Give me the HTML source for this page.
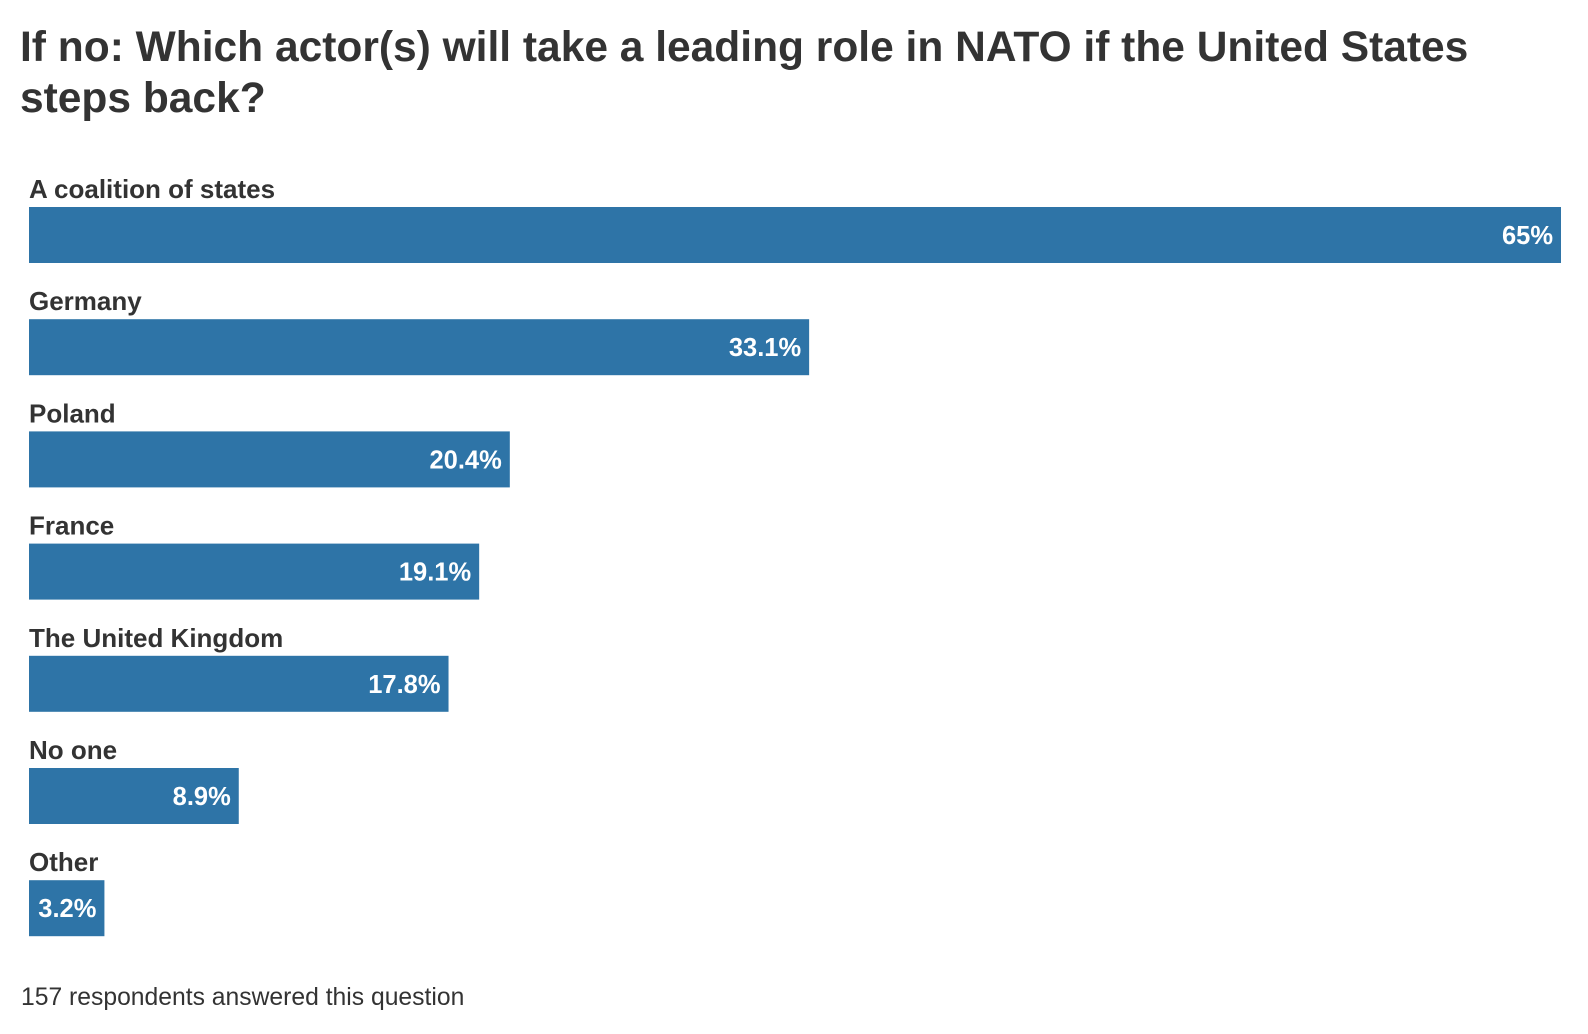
<!DOCTYPE html>
<html><head><meta charset="utf-8"><style>
body{margin:0;background:#fff;width:1588px;height:1034px;overflow:hidden;font-family:"Liberation Sans",sans-serif;color:#333}
h1{position:absolute;left:20px;top:22px;margin:0;font-size:42.5px;line-height:51px;font-weight:bold;color:#333;width:1560px}
#foot{position:absolute;left:21px;top:984px;font-size:24.7px;line-height:28px;color:#333}
</style></head><body>
<h1>If no: Which actor(s) will take a leading role in NATO if the United States<br>steps back?</h1>
<svg id="chart" width="1588" height="1034" style="position:absolute;left:0;top:0"></svg>
<div id="foot">157 respondents answered this question</div>
<script>
const categories=["A coalition of states","Germany","Poland","France","The United Kingdom","No one","Other"];
const values=[65,33.1,20.4,19.1,17.8,8.9,3.2];
const labels=["65%","33.1%","20.4%","19.1%","17.8%","8.9%","3.2%"];
const svg=document.getElementById('chart');
const NS='http://www.w3.org/2000/svg';
const x0=29,maxW=1532,maxV=65;
const xScale=v=>v/maxV*maxW;
const yBar=i=>207+i*112.2;
categories.forEach((c,i)=>{
  const t=document.createElementNS(NS,'text');
  
  
  t.setAttribute('x',x0);t.setAttribute('y',yBar(i)-9);
  t.setAttribute('font-size','26');t.setAttribute('font-weight','bold');t.setAttribute('fill','#333');
  t.textContent=c;svg.appendChild(t);
  const r=document.createElementNS(NS,'rect');
  
  
  const w=xScale(values[i]);
  r.setAttribute('x',x0);r.setAttribute('y',yBar(i));r.setAttribute('width',w);r.setAttribute('height',56);
  r.setAttribute('fill','#2e74a7');svg.appendChild(r);
  const v=document.createElementNS(NS,'text');
  
  
  v.setAttribute('x',x0+w-8);v.setAttribute('y',yBar(i)+37);v.setAttribute('text-anchor','end');
  v.setAttribute('font-size','25.5');v.setAttribute('font-weight','bold');v.setAttribute('fill','#fff');
  v.textContent=labels[i];svg.appendChild(v);
});
</script>
</body></html>
